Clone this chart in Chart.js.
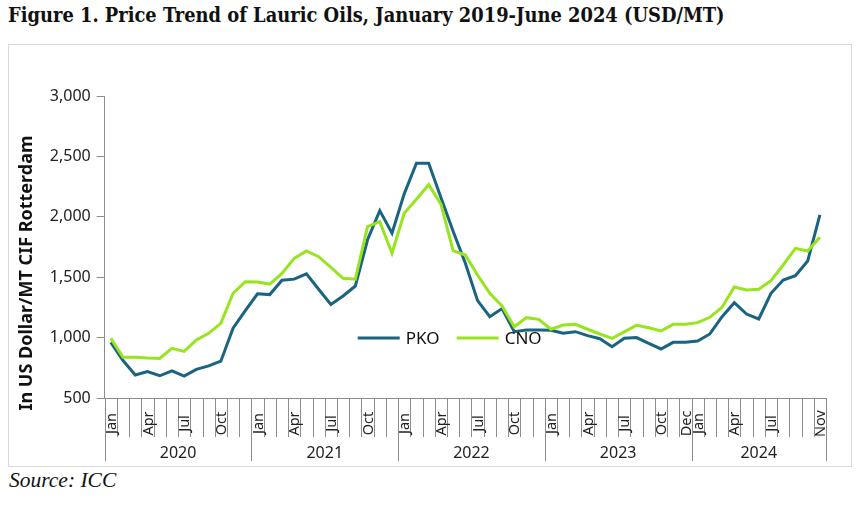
<!DOCTYPE html>
<html>
<head>
<meta charset="utf-8">
<script src="https://cdn.jsdelivr.net/npm/chart.js"></script>
<style>
  body { margin: 0; background: #fff; width: 863px; height: 508px; position: relative; overflow: hidden; }
  #title { position: absolute; left: 8px; top: 2px; font: bold 21px "DejaVu Serif Condensed", "DejaVu Serif", serif; font-stretch: condensed; color: #111; white-space: nowrap; transform-origin: 0 0; }
  #box { position: absolute; left: 8px; top: 44px; width: 842px; height: 421px; border: 1px solid #d9d9d9; }
  #source { position: absolute; left: 9px; top: 468px; font: italic 21.5px "Liberation Serif", serif; color: #111; }
</style>
</head>
<body>
<div id="title">Figure 1. Price Trend of Lauric Oils, January 2019-June 2024 (USD/MT)</div>
<div id="box"><canvas id="chart" width="842" height="421"></canvas></div>
<div id="source">Source: ICC</div>
<script>
const years = ['2020', '2021', '2022', '2023', '2024'];
const monthNames = ['Jan', 'Feb', 'Mar', 'Apr', 'May', 'Jun', 'Jul', 'Aug', 'Sep', 'Oct', 'Nov', 'Dec'];
const lastMonthCount = 11; // 2024 runs Jan-Nov
// indexes of the month labels that are printed under the axis
const shownLabels = [0, 3, 6, 9, 12, 15, 18, 21, 24, 27, 30, 33, 36, 39, 42, 45, 47, 48, 51, 54, 58];

const pko = [961, 810, 690, 718, 684, 724, 681, 737, 766, 805, 1078, 1223,
  1362, 1356, 1475, 1484, 1528, 1400, 1275, 1345, 1427, 1810, 2051, 1864,
  2190, 2443, 2443, 2160, 1880, 1615, 1306, 1173, 1240, 1049, 1063, 1063,
  1060, 1036, 1049, 1016, 991, 925, 995, 1000, 953, 906, 961, 961,
  972, 1030, 1173, 1289, 1195, 1154, 1367, 1477, 1513, 1634, 2015];
const cno = [994, 837, 837, 831, 828, 911, 886, 980, 1035, 1118, 1367, 1463,
  1461, 1443, 1532, 1656, 1717, 1670, 1582, 1491, 1483, 1918, 1960, 1698,
  2029, 2145, 2266, 2105, 1720, 1683, 1518, 1367, 1262, 1090, 1165, 1151,
  1069, 1104, 1110, 1069, 1030, 993, 1047, 1102, 1082, 1055, 1110, 1110,
  1124, 1168, 1251, 1419, 1394, 1400, 1471, 1601, 1739, 1717, 1830];

const yTicks = { min: 500, max: 3000, step: 500 };
const yTitle = 'In US Dollar/MT CIF Rotterdam';

const categories = [];
years.forEach((yr, n) => {
  const count = n === years.length - 1 ? lastMonthCount : 12;
  for (let m = 0; m < count; m++) categories.push(monthNames[m] + ' ' + yr);
});

// squeeze the heading to the width it has in the figure
const titleEl = document.getElementById('title');
titleEl.style.transform = 'scaleX(' + (717 / titleEl.offsetWidth) + ')';

Chart.defaults.font.family = 'Noto Sans';
Chart.defaults.color = '#222';

// month ticks, month labels, year groups, y title and legend
const decor = {
  id: 'decor',
  afterDraw(chart) {
    const { ctx, chartArea, scales: { x } } = chart;
    const step = x.getPixelForValue(1) - x.getPixelForValue(0);
    const base = chartArea.bottom;
    ctx.save();
    ctx.strokeStyle = '#8c8c8c';
    ctx.lineWidth = 1;
    for (let k = 0; k <= categories.length; k++) {
      const px = Math.round(x.getPixelForValue(k) - step / 2) + 0.5;
      const isYear = k % 12 === 0 || k === categories.length;
      ctx.beginPath();
      ctx.moveTo(px, base);
      ctx.lineTo(px, base + (isYear ? 63 : 39));
      ctx.stroke();
    }
    ctx.fillStyle = '#222';
    ctx.font = '14.5px "Noto Sans"';
    ctx.textAlign = 'center';
    ctx.textBaseline = 'middle';
    shownLabels.forEach(i => {
      ctx.save();
      ctx.translate(x.getPixelForValue(i), base + 25.5);
      ctx.rotate(-Math.PI / 2);
      ctx.fillText(categories[i].split(' ')[0], 0, 1);
      ctx.restore();
    });
    ctx.font = '16px "Noto Sans"';
    years.forEach((yr, n) => {
      const first = n * 12;
      const last = Math.min(first + 11, categories.length - 1);
      const cx = (x.getPixelForValue(first) + x.getPixelForValue(last)) / 2;
      ctx.fillText(yr, cx, base + 55);
    });
    // y axis title
    ctx.save();
    ctx.font = 'bold 18px "Noto Sans"';
    ctx.fillStyle = '#111';
    ctx.translate(18, chartArea.bottom - 125);
    ctx.rotate(-Math.PI / 2);
    ctx.fillText(yTitle, 0, 0);
    ctx.restore();
    ctx.restore();
  },
  afterDatasetsDraw(chart) {
    const { ctx, chartArea } = chart;
    const items = [chart.data.datasets[0], chart.data.datasets[1]];
    let lx = chartArea.left + 253;
    const ly = chartArea.top + 242;
    ctx.save();
    ctx.font = '17px "Noto Sans"';
    ctx.textBaseline = 'middle';
    ctx.textAlign = 'left';
    items.forEach(ds => {
      ctx.strokeStyle = ds.borderColor;
      ctx.lineWidth = 3;
      ctx.beginPath();
      ctx.moveTo(lx, ly);
      ctx.lineTo(lx + 42, ly);
      ctx.stroke();
      ctx.fillStyle = '#111';
      ctx.fillText(ds.label, lx + 48, ly + 1);
      lx += 99;
    });
    ctx.restore();
  }
};

new Chart(document.getElementById('chart'), {
  type: 'line',
  data: {
    labels: categories,
    datasets: [
      { label: 'PKO', data: pko, borderColor: '#1a6381', borderWidth: 3, pointRadius: 0, tension: 0, order: 1 },
      { label: 'CNO', data: cno, borderColor: '#98e41f', borderWidth: 3, pointRadius: 0, tension: 0, order: 0 }
    ]
  },
  options: {
    responsive: false,
    animation: false,
    layout: { padding: { top: 51, right: 25, left: 0, bottom: 0 } },
    plugins: { legend: { display: false }, tooltip: { enabled: false } },
    scales: {
      x: {
        type: 'category',
        offset: true,
        grid: { display: false },
        border: { color: '#8c8c8c', width: 1 },
        ticks: { display: false },
        afterFit(scale) { scale.height = 68; }
      },
      y: {
        min: yTicks.min,
        max: yTicks.max,
        ticks: { stepSize: yTicks.step, padding: 6, font: { size: 16 }, color: '#222' },
        grid: { drawOnChartArea: false, tickLength: 8, color: '#8c8c8c' },
        border: { color: '#8c8c8c', width: 1 },
        afterFit(scale) { scale.width = 95.7; }
      }
    }
  },
  plugins: [decor]
});
</script>
</body>
</html>
